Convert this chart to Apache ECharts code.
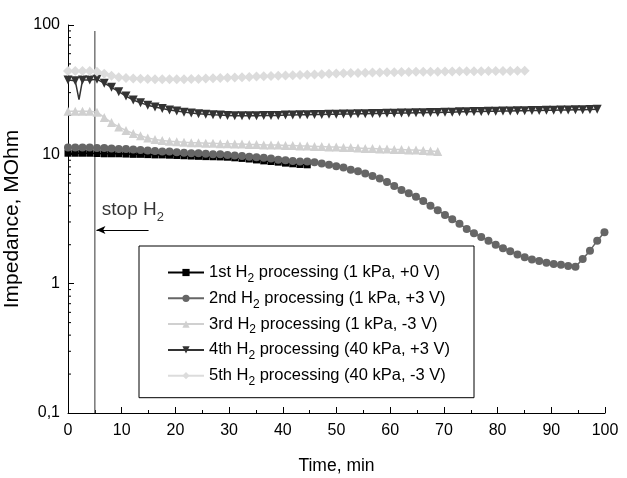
<!DOCTYPE html>
<html>
<head>
<meta charset="utf-8">
<script src="https://cdn.jsdelivr.net/npm/echarts@6/dist/echarts.min.js"></script>
<style>
  html, body { margin: 0; padding: 0; background: #fff; }
  #chart { width: 627px; height: 478px; }
</style>
</head>
<body>
<div id="chart"></div>
<script>
// sampling times (min), shared by all runs
var time = [0, 1.35, 2.7, 4.05, 5.4, 6.75, 8.1, 9.45, 10.8, 12.15, 13.5, 14.85, 16.2, 17.55, 18.9,
  20.25, 21.6, 22.95, 24.3, 25.65, 27, 28.35, 29.7, 31.05, 32.4, 33.75, 35.1, 36.45, 37.8, 39.15,
  40.5, 41.85, 43.2, 44.55, 45.9, 47.25, 48.6, 49.95, 51.3, 52.65, 54, 55.35, 56.7, 58.05, 59.4,
  60.75, 62.1, 63.45, 64.8, 66.15, 67.5, 68.85, 70.2, 71.55, 72.9, 74.25, 75.6, 76.95, 78.3, 79.65,
  81, 82.35, 83.7, 85.05, 86.4, 87.75, 89.1, 90.45, 91.8, 93.15, 94.5, 95.85, 97.2, 98.55, 99.9];

var names = [
  '1st H2 processing (1 kPa, +0 V)',
  '2nd H2 processing (1 kPa, +3 V)',
  '3rd H2 processing (1 kPa, -3 V)',
  '4th H2 processing (40 kPa, +3 V)',
  '5th H2 processing (40 kPa, -3 V)'
];

// impedance, MOhm
var imp1 = [10.2, 10.2, 10.2, 10.2, 10.15, 10.1, 10.1, 10.1, 10.05, 10.0, 10.0, 9.95, 9.9, 9.9, 9.85,
  9.8, 9.75, 9.7, 9.65, 9.6, 9.58, 9.55, 9.5, 9.4, 9.3, 9.2, 9.05, 8.9, 8.8, 8.7, 8.55, 8.45, 8.35, 8.3];

var imp2 = [11.3, 11.3, 11.3, 11.3, 11.2, 11.2, 11.1, 11.0, 11.0, 10.9, 10.8, 10.7, 10.6, 10.5, 10.5,
  10.4, 10.3, 10.2, 10.2, 10.1, 10.0, 10.0, 9.9, 9.8, 9.7, 9.6, 9.5, 9.4, 9.3, 9.1,
  9.0, 8.9, 8.8, 8.8, 8.7, 8.5, 8.3, 8.1, 7.9, 7.6, 7.4, 7.1, 6.8, 6.5, 6.1,
  5.7, 5.3, 5.0, 4.7, 4.35, 4.0, 3.7, 3.4, 3.15, 2.9, 2.65, 2.45, 2.3, 2.15, 2.0,
  1.88, 1.78, 1.68, 1.6, 1.54, 1.5, 1.45, 1.42, 1.4, 1.37, 1.35, 1.55, 1.8, 2.15, 2.5];

var imp3 = [21.5, 21.5, 21.5, 21.5, 21.2, 19.3, 17.6, 16.3, 15.3, 14.5, 13.9, 13.4, 13.0, 12.8, 12.6,
  12.5, 12.4, 12.3, 12.3, 12.2, 12.2, 12.1, 12.1, 12.0, 12.0, 11.9, 11.9, 11.8, 11.8, 11.8,
  11.7, 11.7, 11.6, 11.6, 11.5, 11.5, 11.4, 11.4, 11.3, 11.3, 11.2, 11.1, 11.1, 11.0, 11.0,
  10.9, 10.9, 10.8, 10.8, 10.7, 10.6, 10.5];

var imp4 = [37.5, 37, 37.5, 37.5, 38, 35.5, 33, 30.5, 28.2, 26.3, 25, 24, 23.2, 22.6, 22.0,
  21.6, 21.2, 20.9, 20.6, 20.4, 20.2, 20.1, 20.0, 19.9, 19.9, 19.9, 19.9, 20.0, 20.0, 20.0,
  20.1, 20.1, 20.2, 20.2, 20.3, 20.3, 20.4, 20.4, 20.5, 20.5, 20.6, 20.6, 20.7, 20.7, 20.8,
  20.8, 20.9, 20.9, 21.0, 21.0, 21.1, 21.1, 21.2, 21.2, 21.3, 21.3, 21.4, 21.4, 21.5, 21.5,
  21.6, 21.6, 21.7, 21.7, 21.8, 21.8, 21.9, 21.9, 22.0, 22.0, 22.1, 22.1, 22.2, 22.3];
var spike4 = [2.05, 26.5];   // single glitch point after the 2nd sample

var imp5 = [44, 44, 44, 44, 43.5, 42, 40.5, 39.5, 39, 38.6, 38.4, 38.2, 38.1, 38.0, 38.0,
  38.0, 38.1, 38.2, 38.3, 38.5, 38.7, 38.9, 39.1, 39.3, 39.5, 39.7, 39.9, 40.1, 40.3, 40.5,
  40.7, 40.9, 41.1, 41.3, 41.5, 41.7, 41.9, 42.1, 42.3, 42.5, 42.6, 42.8, 42.9, 43.0, 43.1,
  43.2, 43.3, 43.4, 43.5, 43.5, 43.6, 43.6, 43.7, 43.7, 43.8, 43.8, 43.9, 43.9, 44.0, 44.0,
  44.1, 44.1, 44.2, 44.2];

// stop-H2 marker line, arrow and text
var stopLine = [[5, 90], [5, 0.1]];
var arrow = [[15, 2.6], [5.3, 2.6]];
var stopLabel = [6.3, 3.75];

var xTicks = { min: 0, max: 100, step: 10 };
var yRange = { min: 0.1, max: 100 };
var yMinor = [0.2, 0.3, 0.4, 0.5, 0.6, 0.7, 0.8, 0.9, 2, 3, 4, 5, 6, 7, 8, 9, 20, 30, 40, 50, 60, 70, 80, 90];

var font = 'Arial, "Liberation Sans", sans-serif';

function pairs(vals) {
  return vals.map(function (v, i) { return [time[i], v]; });
}

var data4 = pairs(imp4);
data4.splice(2, 0, { value: spike4, symbol: 'none' });

var styles = [
  { color: '#000000', symbol: 'rect', size: 7, rot: 0 },
  { color: '#666666', symbol: 'circle', size: 8, rot: 0 },
  { color: '#d0d0d0', symbol: 'triangle', size: 9, rot: 0 },
  { color: '#333333', symbol: 'triangle', size: 9, rot: 180 },
  { color: '#dcdcdc', symbol: 'diamond', size: 10, rot: 0 }
];
var allData = [pairs(imp1), pairs(imp2), pairs(imp3), data4, pairs(imp5)];

var series = allData.map(function (d, k) {
  var s = styles[k];
  return {
    name: names[k],
    type: 'line',
    data: d,
    symbol: s.symbol,
    symbolSize: s.size,
    symbolRotate: s.rot,
    showSymbol: true,
    showAllSymbol: true,
    itemStyle: { color: s.color },
    lineStyle: { color: s.color, width: 1.5 },
    emphasis: { disabled: true }
  };
});

series.push({
  name: 'stop',
  type: 'line',
  data: stopLine,
  symbol: 'none',
  lineStyle: { color: '#555', width: 1.2 },
  silent: true,
  z: 1
});

series.push({
  name: 'arrow',
  type: 'line',
  data: [],
  silent: true,
  markLine: {
    silent: true,
    symbol: ['none', 'arrow'],
    symbolSize: [6, 9],
    label: { show: false },
    lineStyle: { color: '#000', width: 1, type: 'solid' },
    data: [[{ coord: arrow[0] }, { coord: arrow[1] }]]
  }
});

series.push({
  name: 'stopText',
  type: 'scatter',
  data: [stopLabel],
  symbolSize: 0,
  silent: true,
  label: {
    show: true,
    position: 'right',
    distance: 0,
    formatter: 'stop H{sub|2}',
    color: '#000',
    fontFamily: font,
    fontSize: 19,
    rich: {
      sub: { fontSize: 13, fontFamily: font, color: '#000', verticalAlign: 'bottom', lineHeight: 28 }
    }
  }
});

series.push({
  name: 'yMinor',
  type: 'custom',
  silent: true,
  clip: false,
  data: yMinor.map(function (v) { return [0, v]; }),
  renderItem: function (params, api) {
    var p = api.coord([api.value(0), api.value(1)]);
    return {
      type: 'line',
      shape: { x1: p[0], y1: p[1], x2: p[0] + 3, y2: p[1] },
      style: { stroke: '#000', lineWidth: 1 }
    };
  }
});

var chart = echarts.init(document.getElementById('chart'));
chart.setOption({
  animation: false,
  backgroundColor: '#fff',
  textStyle: { fontFamily: font },
  grid: { left: 68, right: 22, top: 25, bottom: 65, containLabel: false, outerBoundsMode: 'none' },
  legend: {
    data: names,
    orient: 'vertical',
    left: 139,
    top: 246,
    padding: [18, 24, 10, 28],
    itemGap: 5.3,
    itemWidth: 36,
    itemHeight: 9,
    borderColor: '#000',
    borderWidth: 1,
    selectedMode: false,
    formatter: function (name) { return name.replace(' H2 ', ' H{sub|2} '); },
    textStyle: {
      color: '#000',
      fontSize: 16.5,
      fontFamily: font,
      rich: {
        sub: { fontSize: 12, fontFamily: font, color: '#000', verticalAlign: 'bottom', lineHeight: 24 }
      }
    }
  },
  xAxis: {
    type: 'value',
    min: xTicks.min,
    max: xTicks.max,
    interval: xTicks.step,
    name: 'Time, min',
    nameLocation: 'middle',
    nameGap: 44,
    nameTextStyle: { color: '#000', fontSize: 17.5, fontFamily: font },
    axisLine: { onZero: false, lineStyle: { color: '#000', width: 1 } },
    axisTick: { inside: true, length: 6, lineStyle: { color: '#000' } },
    minorTick: { show: true, splitNumber: 2, length: 3, lineStyle: { color: '#000' } },
    axisLabel: { color: '#000', fontSize: 16, fontFamily: font, margin: 10 },
    splitLine: { show: false }
  },
  yAxis: {
    type: 'log',
    logBase: 10,
    min: yRange.min,
    max: yRange.max,
    name: 'Impedance, MOhm',
    nameLocation: 'middle',
    nameGap: 36,
    nameTextStyle: { color: '#000', fontSize: 21, fontFamily: font },
    axisLine: { show: true, lineStyle: { color: '#000', width: 1 } },
    axisTick: { inside: true, length: 6, lineStyle: { color: '#000' } },
    axisLabel: {
      color: '#000', fontSize: 16, fontFamily: font, margin: 8,
      formatter: function (v) { return String(+(+v).toPrecision(3)).replace('.', ','); }
    },
    splitLine: { show: false }
  },
  series: series
});
</script>
</body>
</html>
